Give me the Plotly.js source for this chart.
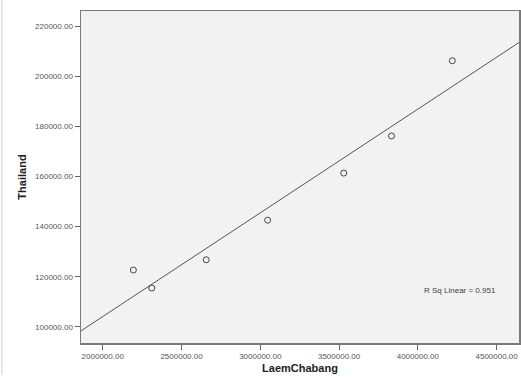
<!DOCTYPE html>
<html><head><meta charset="utf-8">
<script src="https://cdn.plot.ly/plotly-3.0.1.min.js"></script>
<style>html,body{margin:0;padding:0;background:#fff}#chart{width:521px;height:377px}</style>
</head><body><div id="chart"></div>
<script>
const laemChabang = [2194500, 2311500, 2656700, 3046400, 3529700, 3832800, 4218800];
const thailand = [122700, 115500, 126800, 142560, 161360, 176160, 206160];
const xRange = [1862000, 4642000];
const yRange = [93600, 226000];
const rSqLabel = 'R Sq Linear = 0.951';

// least squares fit
const n = laemChabang.length;
const mx = laemChabang.reduce((a,b)=>a+b,0)/n;
const my = thailand.reduce((a,b)=>a+b,0)/n;
let sxy=0, sxx=0;
for (let i=0;i<n;i++){ sxy += (laemChabang[i]-mx)*(thailand[i]-my); sxx += (laemChabang[i]-mx)**2; }
const slope = sxy/sxx, intercept = my - slope*mx;
const fitX = xRange;
const fitY = fitX.map(x => intercept + slope*x);

const font = 'Liberation Sans, Arial, sans-serif';
const data = [
  {x: fitX, y: fitY, mode:'lines', line:{color:'#555', width:1}, hoverinfo:'skip'},
  {x: laemChabang, y: thailand, mode:'markers',
   marker:{symbol:'circle-open', size:6, color:'#444', line:{width:1, color:'#444'}}}
];
const axisCommon = {
  showgrid:false, zeroline:false, showline:true, mirror:true,
  linecolor:'#7a7a7a', linewidth:1.5, ticks:'outside', ticklen:5, tickcolor:'#666', tickwidth:1,
  tickformat:'.2f', tickfont:{family:font, size:8, color:'#555'}
};
const layout = {
  width:521, height:377,
  margin:{l:81, r:2, t:11, b:34},
  paper_bgcolor:'#ffffff', plot_bgcolor:'#f2f2f2',
  showlegend:false,
  xaxis: Object.assign({}, axisCommon, {range:xRange, dtick:500000, tick0:0,
    title:{text:'<b>LaemChabang</b>', font:{family:font, size:11, color:'#222'}, standoff:4}}),
  yaxis: Object.assign({}, axisCommon, {range:yRange, dtick:20000, tick0:0,
    title:{text:'<b>Thailand</b>', font:{family:font, size:11, color:'#222'}, standoff:6}}),
  annotations:[{xref:'x', yref:'y', x:4265000, y:114700, text:rSqLabel, showarrow:false,
    font:{family:font, size:8, color:'#444'}}],
  shapes:[{type:'line', xref:'paper', yref:'paper', x0:-0.1804, x1:-0.1804, y0:-0.096, y1:1.033,
    line:{color:'#cfcfcf', width:1}}]
};
Plotly.newPlot('chart', data, layout, {displayModeBar:false, staticPlot:true});
</script></body></html>
